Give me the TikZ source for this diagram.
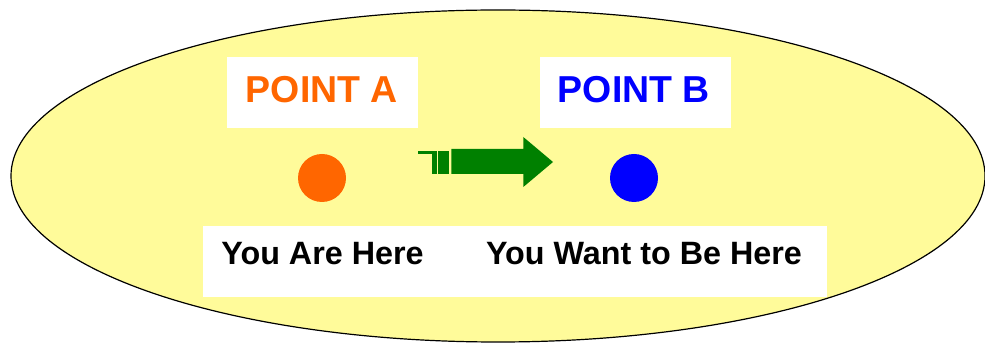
\documentclass[tikz,border=0pt]{standalone}
\usepackage{fontspec}
\setmainfont{Liberation Sans}
\definecolor{bgyellow}{HTML}{FFFB9A}
\definecolor{ptorange}{HTML}{FF6600}
\definecolor{ptblue}{HTML}{0000FF}
\definecolor{arrgreen}{HTML}{008000}
\tikzset{
  whitebox/.style={fill=white, draw=none},
  lbl/.style={font=\bfseries\fontsize{37.5}{40}\selectfont, anchor=base, inner sep=0pt},
  sublbl/.style={font=\bfseries\fontsize{32.3}{36}\selectfont, anchor=base, inner sep=0pt},
  dot/.style={circle, minimum size=48pt, inner sep=0pt, draw=none},
}
\begin{document}
\begin{tikzpicture}[x=1pt, y=-1pt]
\useasboundingbox (0,0) rectangle (985,344);
% background ellipse
\draw[fill=bgyellow, draw=black, line width=1.2pt] (498,176) ellipse [x radius=487, y radius=166];
% white boxes
\fill[whitebox] (227,57) rectangle (418,128);
\fill[whitebox] (540,57) rectangle (731,128);
\fill[whitebox] (203,226) rectangle (827,297);
% labels
\node[lbl, text=ptorange] (pa) at (322,102.5) {POINT A};
\node[lbl, text=ptblue] (pb) at (634,102.5) {POINT B};
\node[sublbl] (ya) at (322.5,264.5) {You Are Here};
\node[sublbl] (yw) at (644,264.5) {You Want to Be Here};
% dots
\node[dot, fill=ptorange] (da) at (322,178) {};
\node[dot, fill=ptblue] (db) at (634,178) {};
% arrow
\fill[arrgreen] (418.3,150.7) rectangle (432.3,154);
\fill[arrgreen] (432.3,150.7) rectangle (436.7,174);
\fill[arrgreen] (438.3,150.7) rectangle (449.3,174);
\fill[arrgreen] (451.3,149) -- (523.3,149) -- (523.3,137) -- (553,162) -- (523.3,187) -- (523.3,174) -- (451.3,174) -- cycle;
\end{tikzpicture}
\end{document}
